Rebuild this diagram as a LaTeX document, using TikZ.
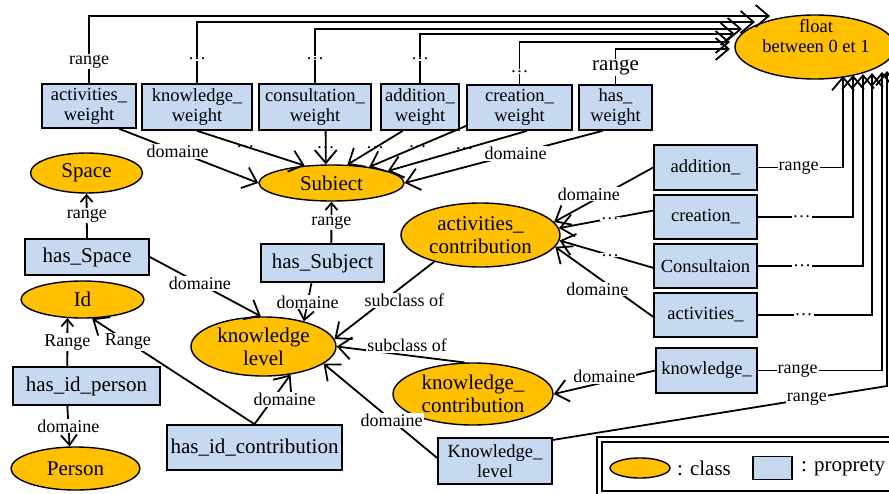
\documentclass[tikz,border=0pt]{standalone}
\usepackage{fontspec}
\setmainfont{Liberation Serif}
\usetikzlibrary{arrows.meta,shapes.geometric}
\definecolor{clsfill}{RGB}{255,192,0}
\definecolor{propfill}{RGB}{198,217,241}
\begin{document}
\begin{tikzpicture}[x=1pt,y=-1pt,
  fbig/.style={font=\fontsize{21}{23}\selectfont},
  fsmall/.style={font=\fontsize{18.5}{20}\selectfont},
  cls/.style={ellipse, draw=black, line width=1.4pt, fill=clsfill, inner sep=0pt, align=center, fbig},
  prop/.style={rectangle, draw=black, line width=1.7pt, fill=propfill, inner sep=0pt, align=center, fbig},
  lbl/.style={fill=white, inner sep=1pt, font=\fontsize{18}{20}\selectfont},
  dotlbl/.style={inner sep=1pt, font=\fontsize{18}{20}\selectfont},
  conn/.style={line width=1.8pt, draw=black},
  bigarr/.style={-{Straight Barb[length=13pt,width=22pt]}},
  medarr/.style={-{Straight Barb[length=10pt,width=16pt]}},
  smallarr/.style={-{Straight Barb[length=7pt,width=12pt]}}
]
\useasboundingbox (0,0) rectangle (889,493);

% ---- classes
\node[cls, minimum width=160pt, minimum height=64pt] (float) at (815,47) {};
\node[fsmall, align=center, inner sep=0pt] (floattxt) at (816,36) {float\\between 0 et 1};
\node[cls, minimum width=112pt, minimum height=40pt] (space) at (86.5,173) {Space};
\node[cls, minimum width=123pt, minimum height=37pt] (id) at (82.5,299.5) {Id};
\node[cls, minimum width=129pt, minimum height=43pt] (person) at (75.5,468.5) {Person};
\node[cls, minimum width=145pt, minimum height=36pt] (sub) at (331.5,183) {Subiect};
\node[cls, minimum width=145pt, minimum height=59pt] (kl) at (263.5,346.5) {knowledge\\level};
\node[cls, minimum width=159pt, minimum height=64pt] (ac) at (480.5,235) {activities\_\\contribution};
\node[cls, minimum width=160pt, minimum height=62pt] (kc) at (473,394) {knowledge\_\\contribution};

% ---- weight properties
\node[prop, fsmall, minimum width=94pt, minimum height=44pt] (aw) at (89,106) {activities\_\\weight};
\node[prop, fsmall, minimum width=110pt, minimum height=46pt] (kw) at (197,107) {knowledge\_\\weight};
\node[prop, fsmall, minimum width=112pt, minimum height=46pt] (cw) at (315,107) {consultation\_\\weight};
\node[prop, fsmall, minimum width=78pt, minimum height=46pt] (adw) at (420,107) {addition\_\\weight};
\node[prop, fsmall, minimum width=105pt, minimum height=45pt] (crw) at (519.5,107.5) {creation\_\\weight};
\node[prop, fsmall, minimum width=73pt, minimum height=45pt] (hw) at (615.5,107.5) {has\_\\weight};

% ---- right properties
\node[prop, fsmall, minimum width=103pt, minimum height=45pt] (add) at (705.5,167.5) {addition\_};
\node[prop, fsmall, minimum width=103pt, minimum height=44pt] (cre) at (705.5,217) {creation\_};
\node[prop, fsmall, minimum width=103pt, minimum height=44pt] (con) at (705.5,266) {Consultaion};
\node[prop, fsmall, minimum width=103pt, minimum height=44pt] (act) at (705.5,315) {activities\_};
\node[prop, fsmall, minimum width=101pt, minimum height=45pt] (kno) at (706.5,370.5) {knowledge\_};
\node[prop, fsmall, minimum width=114pt, minimum height=46pt] (klb) at (495,461) {Knowledge\_\\level};

% ---- left properties
\node[prop, minimum width=124pt, minimum height=36pt] (hsp) at (87,257) {has\_Space};
\node[prop, minimum width=147pt, minimum height=38pt] (hip) at (86.5,386) {has\_id\_person};
\node[prop, minimum width=175pt, minimum height=45pt] (hic) at (254.5,447.5) {has\_id\_contribution};
\node[prop, minimum width=123pt, minimum height=38pt] (hsu) at (322.5,263) {has\_Subject};

% ---- tip coordinates on float
\coordinate (ft1) at (770,16);
\coordinate (ft2) at (755,22);
\coordinate (ft3) at (742,29);
\coordinate (ft4) at (735,34);
\coordinate (ft5) at (730,42);
\coordinate (ft6) at (730,49);
\coordinate (fb1) at (843,76);
\coordinate (fb2) at (853,75);
\coordinate (fb3) at (863,74);
\coordinate (fb4) at (872,73);
\coordinate (fb5) at (882,72);
\coordinate (fb6) at (887,71);
\coordinate (kbend) at (887,386);

% ---- top range lines
\draw[conn,bigarr] (aw.north) |- node[lbl,pos=.16]{range} (ft1);
\draw[conn,bigarr] (kw.north) |- node[lbl,pos=.2]{\dots} (ft2);
\draw[conn,bigarr] (cw.north) |- node[lbl,pos=.23]{\dots} (ft3);
\draw[conn,bigarr] (adw.north) |- node[lbl,pos=.25]{\dots} (ft4);
\draw[conn,bigarr] (crw.north) |- node[lbl,pos=.15]{\dots} (ft5);
\draw[conn,bigarr] (hw.north) |- node[lbl,pos=.24,fbig]{range} (ft6);

% ---- right range lines
\draw[conn,bigarr] (add.east) -| node[lbl,pos=.24]{range} (fb1);
\draw[conn,bigarr] (cre.east) -| node[lbl,pos=.23]{\dots} (fb2);
\draw[conn,bigarr] (con.east) -| node[lbl,pos=.21]{\dots} (fb3);
\draw[conn,bigarr] (act.east) -| node[lbl,pos=.2]{\dots} (fb4);
\draw[conn,bigarr] (kno.east) -| node[lbl,pos=.16]{range} (fb5);
\draw[conn,bigarr] (klb.20) -- node[lbl,pos=.76]{range} (kbend) -- (fb6);

% ---- weights to Subiect
\draw[conn,bigarr] (aw.-37) -- node[lbl,pos=.42]{domaine} (sub.west);
\draw[conn,bigarr] (kw.south) -- node[dotlbl,pos=.45]{\dots} (sub.147);
\draw[conn,bigarr] (cw.-66) -- node[dotlbl,pos=.5]{\dots} (sub.107);
\draw[conn,bigarr] (adw.234) -- node[dotlbl,pos=.5]{\dots} (sub.49);
\draw[conn,bigarr] (crw.199) -- node[dotlbl,pos=.5]{\dots} (sub.23);
\draw[conn,bigarr] (crw.-72) -- node[dotlbl,pos=.45]{\dots} (sub.12);
\draw[conn,bigarr] (hw.241) -- node[lbl,pos=.44]{domaine} (sub.east);

% ---- left part
\draw[conn,smallarr] (hsp.north) -- node[lbl]{range} (space.south);
\draw[conn,bigarr] (hsp.east) -- node[lbl,pos=.45]{domaine} (kl.95);
\draw[conn,smallarr] (hip.134) -- node[lbl]{Range} (id.231);
\draw[conn,medarr] (hip.226) -- node[lbl]{domaine} (person.105);
\draw[conn,bigarr] (hic.north) -- node[lbl,pos=.78]{Range} (id.-63);
\draw[conn,bigarr] (hic.north) -- node[lbl,pos=.5,xshift=12pt]{domaine} (kl.-46);
\draw[conn,smallarr] (hsu.66) -- node[lbl]{range} (sub.south);
\draw[conn,medarr] (hsu.241) -- node[lbl]{domaine} (kl.32);
\draw[conn,bigarr] (ac.210) -- node[lbl,pos=.5,xshift=20pt]{subclass of} (kl.6);
\draw[conn,bigarr] (kc.105) -- node[lbl,pos=.45,yshift=10pt]{subclass of} (kl.east);
\draw[conn,bigarr] (klb.177) -- node[lbl,pos=.4]{domaine} (kl.-16);
\draw[conn,bigarr] (kno.west) -- node[lbl,pos=.5,yshift=6pt]{domaine} (kc.east);

% ---- right properties to activities_contribution
\draw[conn,bigarr] (add.west) -- node[lbl,pos=.65,yshift=9pt]{domaine} (ac.10);
\draw[conn,bigarr] (cre.173) -- node[lbl,pos=.46]{\dots} (ac.5);
\draw[conn,bigarr] (con.182) -- node[lbl,pos=.46]{\dots} (ac.-4);
\draw[conn,bigarr] (act.182) -- node[lbl,pos=.57,yshift=-12pt]{domaine} (ac.-9);

% ---- legend
\draw[line width=1.7pt] (597,437) rectangle (897,497);
\draw[line width=1.7pt] (602,442) rectangle (892,491);
\node[cls, minimum width=60pt, minimum height=20pt] (legcls) at (640,468) {};
\node[anchor=west, fbig, inner sep=0pt] (legclstxt) at (677,468) {: class};
\node[prop, minimum width=39pt, minimum height=23pt] (legprop) at (772.5,468) {};
\node[anchor=west, fbig, inner sep=0pt] (legproptxt) at (801,468) {: proprety};
\end{tikzpicture}
\end{document}
